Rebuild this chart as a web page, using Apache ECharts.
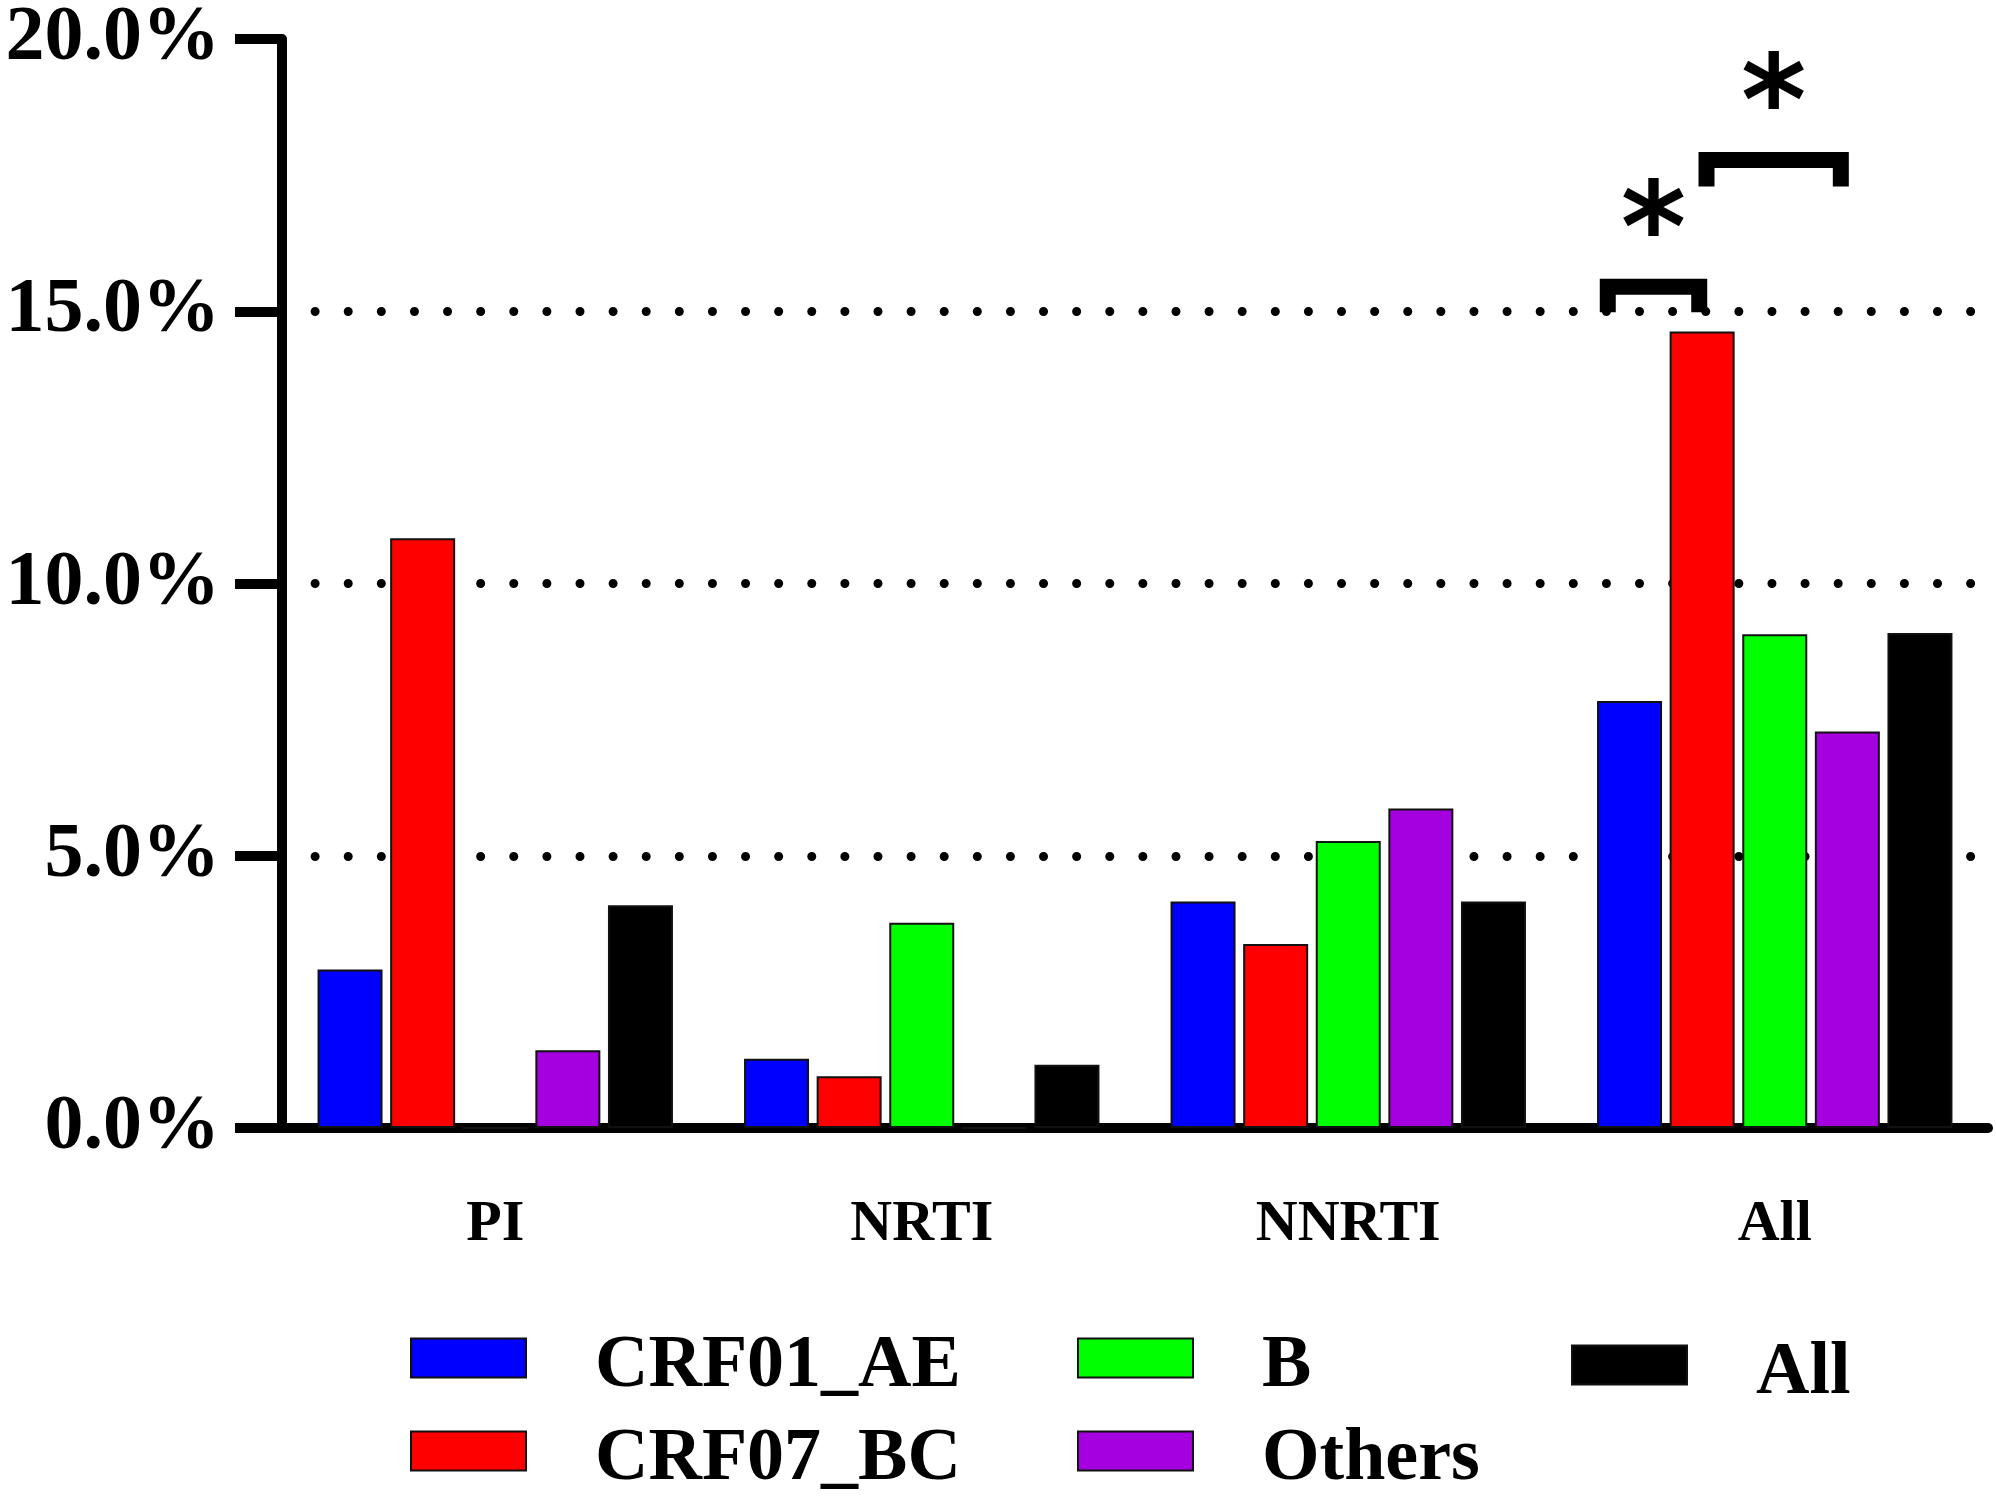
<!DOCTYPE html>
<html><head><meta charset="utf-8">
<script src="https://cdn.jsdelivr.net/npm/echarts@6/dist/echarts.min.js"></script>
<style>html,body{margin:0;padding:0;background:#fff}#c{width:1996px;height:1504px}</style>
</head><body><div id="c"></div>
<script>
const categories = ['PI', 'NRTI', 'NNRTI', 'All'];
const crf01_AE = [2.91, 1.27, 4.16, 7.84];
const crf07_BC = [10.83, 0.95, 3.38, 14.63];
const subtypeB = [0, 3.77, 5.27, 9.07];
const others = [1.43, 0, 5.87, 7.28];
const allSubtypes = [4.09, 1.16, 4.16, 9.09];
const yTicks = [0, 5, 10, 15, 20];
// significance brackets: [category index, bracket top value, leg end value, left slot, right slot]
const brackets = [[3, 15.45, 14.98, -2.3, -1.04], [3, 17.78, 17.29, -0.94, 0.91]];
const sigLabel = '*';

const FONT = 'Liberation Serif';
const BAR_W = 65, BAR_GAP = 0.117;
const SLOT = BAR_W * (1 + BAR_GAP);

const chart = echarts.init(document.getElementById('c'));
function barSeries(name, data, color) {
  return { name, type: 'bar', data, barWidth: BAR_W, barGap: (BAR_GAP * 100) + '%',
    itemStyle: { color, borderColor: '#111', borderWidth: 2 } };
}
function legendAt(name, left, top) {
  return { data: [name], left, top, orient: 'horizontal', itemWidth: 115, itemHeight: 39, icon: 'rect',
    selectedMode: false, padding: 0,
    formatter: '{a|{name}}',
    textStyle: { fontFamily: FONT, fontWeight: 'bold', fontSize: 74, color: '#000',
      rich: { a: { fontFamily: FONT, fontWeight: 'bold', fontSize: 74, color: '#000', lineHeight: 74,
        padding: [18, 0, 0, 64] } } } };
}
chart.setOption({
  animation: false,
  backgroundColor: '#fff',
  grid: { left: 282, right: 8, top: 26.5, bottom: 376, containLabel: false },
  legend: [
    legendAt('CRF01_AE', 410, 1312),
    legendAt('CRF07_BC', 410, 1405),
    legendAt('B', 1077, 1312),
    legendAt('Others', 1077, 1405),
    legendAt('All', 1571, 1319)
  ],
  xAxis: { type: 'category', data: categories,
    axisLine: { lineStyle: { color: '#000', width: 10 } },
    axisTick: { alignWithLabel: true, length: 47, lineStyle: { color: '#000', width: 10 } },
    axisLabel: { fontFamily: FONT, fontWeight: 'bold', fontSize: 58, color: '#000', margin: 68 } },
  yAxis: { type: 'value', min: yTicks[0], max: yTicks[yTicks.length - 1], interval: 5,
    axisLine: { show: true, lineStyle: { color: '#000', width: 10 } },
    axisTick: { show: true, length: 47, lineStyle: { color: '#000', width: 10 } },
    axisLabel: { fontFamily: FONT, fontWeight: 'bold', fontSize: 78, color: '#000', margin: 62,
      formatter: v => v.toFixed(1) + '%' },
    splitLine: { show: true, showMinLine: false, showMaxLine: false,
      lineStyle: { color: '#000', width: 9, type: [0.01, 33.1], cap: 'round' } } },
  series: [
    barSeries('CRF01_AE', crf01_AE, '#0000FF'),
    barSeries('CRF07_BC', crf07_BC, '#FF0000'),
    barSeries('B', subtypeB, '#00FF00'),
    barSeries('Others', others, '#A500E0'),
    barSeries('All', allSubtypes, '#000000'),
    { type: 'custom', name: 'sig', data: brackets, silent: true, z: 10,
      encode: { x: 0, y: 1 },
      renderItem: function (params, api) {
        const c = api.coord([api.value(0), api.value(1)]);
        const legY = api.coord([api.value(0), api.value(2)])[1];
        const xl = c[0] + api.value(3) * SLOT, xr = c[0] + api.value(4) * SLOT;
        return { type: 'group', children: [
          { type: 'polyline', shape: { points: [[xl, legY], [xl, c[1]], [xr, c[1]], [xr, legY]] },
            style: { stroke: '#000', lineWidth: 16, fill: null, lineJoin: 'miter', lineCap: 'butt' } },
          { type: 'text', x: (xl + xr) / 2, y: c[1] - 48,
            style: { text: sigLabel, fontFamily: 'DejaVu Sans', fontWeight: 'bold', fontSize: 125,
              fill: '#000', align: 'center', verticalAlign: 'middle' } }
        ] };
      } }
  ]
});
</script></body></html>
